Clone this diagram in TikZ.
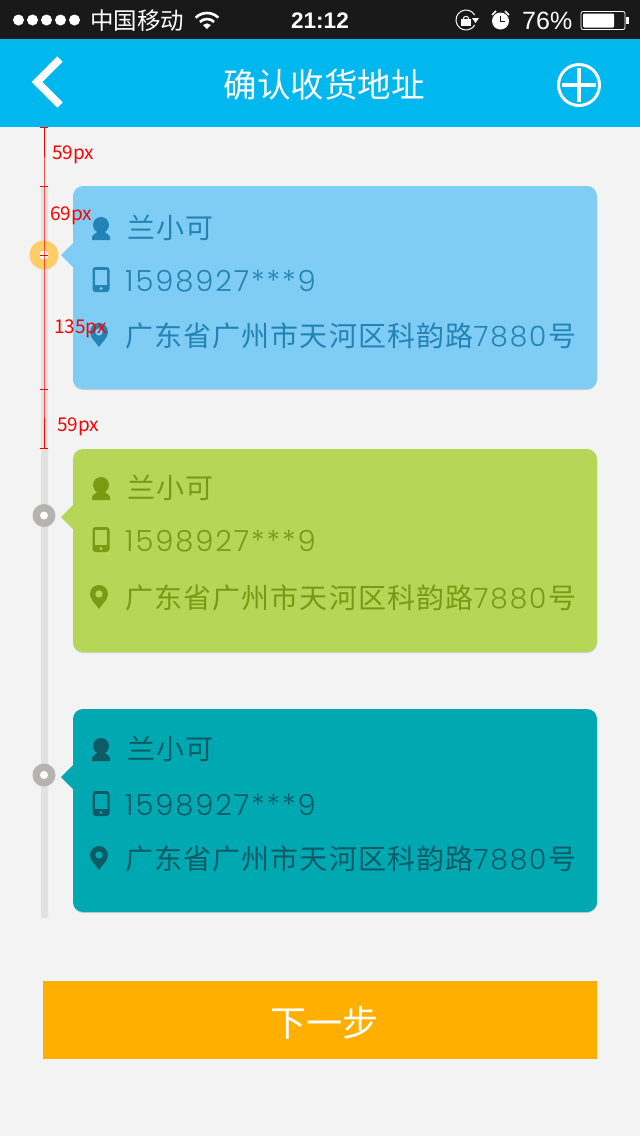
\documentclass[tikz,border=0pt]{standalone}
\usepackage{fontspec}
\usepackage{xcolor}
\usetikzlibrary{positioning, calc}
\setmainfont{Noto Sans CJK SC}
\newfontfamily\cardfont[LetterSpace=4]{Noto Sans CJK SC}
\newfontfamily\numfont[LetterSpace=6.5]{Poppins Light}
\newfontfamily\addrnumfont[LetterSpace=7]{Poppins Light}
\newfontfamily\statusfont{Liberation Sans}
\definecolor{barblack}{HTML}{191919}
\definecolor{headblue}{HTML}{00B7EE}
\definecolor{pagegrey}{HTML}{F3F3F3}
\definecolor{trackgrey}{HTML}{E2E2DF}
\definecolor{dotgrey}{HTML}{B5B4B2}
\definecolor{dotorange}{HTML}{FFCC66}
\definecolor{btnorange}{HTML}{FFAF00}
\definecolor{cardblue}{HTML}{7FCDF4}
\definecolor{inkblue}{HTML}{2283B4}
\definecolor{cardgreen}{HTML}{B5D656}
\definecolor{inkgreen}{HTML}{7A9A14}
\definecolor{cardteal}{HTML}{00A8B1}
\definecolor{inkteal}{HTML}{0C5B66}
\tikzset{
    dimline/.style={red, line width=0.9pt},
    dimtext/.style={red, font=\fontsize{19}{19}\selectfont, inner sep=0},
    cardtext/.style={anchor=base west, inner sep=0, font=\fontsize{28}{28}\selectfont\cardfont},
    phonetext/.style={anchor=base west, inner sep=0, font=\fontsize{29}{29}\selectfont\numfont},
    statustext/.style={white, inner sep=0, font=\fontsize{23.5}{23.5}\selectfont},
    dotouter/.style={circle, fill=dotgrey, minimum size=23, inner sep=0},
    dotinner/.style={circle, fill=white, minimum size=8, inner sep=0},
    person icon/.pic={
        \fill (0,-3) circle (8);
        \fill (-9,12) -- (-9,9) .. controls (-8,6) and (-4,5) .. (-3,3) -- (3,3) .. controls (4,5) and (8,6) .. (9,9) -- (9,12) -- cycle;
    },
    pin icon/.pic={
        \fill[even odd rule] (0,12) .. controls (-3,7) and (-9,3) .. (-9,-3) arc (180:360:9) .. controls (9,3) and (3,7) .. (0,12) -- cycle (0,-3) circle (3.8);
    },
}
\begin{document}
\begin{tikzpicture}[x=1pt, y=-1pt]
    \useasboundingbox (0,0) rectangle (640,1136);
    \fill[pagegrey] (0,0) rectangle (640,1136);

    % Status bar
    \fill[barblack] (0,0) rectangle (640,39);
    \foreach \i in {0,...,4}
        \fill[white] (18.5+14*\i,20) circle (5.5);
    \node[statustext, anchor=west] (carrier) at (90,21) {中国移动};
    \fill[white] (207,29) -- ++(-4,-4) arc (-135:-45:5.6) -- cycle;
    \foreach \r in {10,16}
        \draw[white, line width=2.6pt] ($(207,29)+(-45:\r)$) arc (-45:-135:\r);
    \node[statustext, anchor=center, font=\fontsize{22.5}{22.5}\selectfont\statusfont\bfseries] (clock) at (320,21) {21:12};
    \draw[white, line width=1pt] ($(466,20)+(-30:10)$) arc (-30:-330:10);
    \fill[white] (461,19) rectangle (471,26);
    \draw[white, line width=1pt] (463.3,19) arc (180:360:2.7);
    \fill[white] (472,18) -- (479,18) -- (475.5,23) -- cycle;
    \fill[white] (500.5,21) circle (8.5);
    \draw[barblack, line width=1pt] (500.5,15.5) -- (500.5,21) -- (505,21);
    \draw[white, line width=1.5pt] (492,15) -- (496,11) (509,15) -- (505,11);
    \node[statustext, anchor=west, font=\fontsize{25}{25}\selectfont\statusfont] (battlabel) at (522,21) {76\%};
    \draw[white, rounded corners=2, line width=0.8pt] (581,11.5) rectangle (625,29.5);
    \fill[white, rounded corners=1] (583,13.5) rectangle (614,27.5);
    \fill[white] (626,17) rectangle (629,24);

    % Header
    \fill[headblue] (0,39) rectangle (640,127);
    \draw[white, line width=7.5pt, miter limit=10] (60,59) -- (37,82) -- (60,105);
    \node[white, font=\fontsize{33.5}{33.5}\selectfont] (title) at (324,85) {确认收货地址};
    \node[circle, draw=white, line width=3pt, minimum size=41, inner sep=0] (addbtn) at (579,85) {};
    \draw[white, line width=4pt] (562,85) -- (596,85) (579,68) -- (579,102);

    % Timeline
    \fill[trackgrey, rounded corners=2] (41,186) rectangle (48,918);

    % Address cards
    \foreach \n/\top/\tip/\ny/\py/\ay/\card/\ink in {
        a/186/255/228/280/335/cardblue/inkblue,
        b/449/517/488/540/597/cardgreen/inkgreen,
        c/709/777/749/804/858/cardteal/inkteal}
    {
        \fill[black!18, rounded corners=10] (73,\top+3) rectangle (597,\top+204);
        \fill[\card, rounded corners=10] (73,\top) rectangle (597,\top+203);
        \fill[\card] (61,\tip) -- (73,\tip-12) -- (73,\tip+12) -- cycle;
        \node[cardtext, text=\ink] (name\n) at (127,\ny+10) {兰小可};
        \node[phonetext, text=\ink] (phone\n) at (125,\py+11) {1598927***9};
        \node[cardtext, text=\ink] (addr\n) at (125,\ay+11) {广东省广州市天河区科韵路{\addrnumfont 7880\kern2pt}号};
        \pic[\ink] at (101,\ny) {person icon};
        \fill[\ink, rounded corners=3] (92.5,\py-13) rectangle (109.5,\py+12);
        \fill[\card] (95,\py-10) rectangle (107,\py+5);
        \fill[\card] (101,\py+8.5) circle (1.7);
        \pic[\ink] at (99,\ay) {pin icon};
    }

    % Step dots
    \node[circle, fill=dotorange, minimum size=29, inner sep=0] (dota) at (44,255) {};
    \node[dotinner, minimum size=9] at (dota) {};
    \node[dotouter] (dotb) at (44,515.5) {};
    \node[dotinner] at (dotb) {};
    \node[dotouter] (dotc) at (44,775) {};
    \node[dotinner] at (dotc) {};

    % Next button
    \node[fill=btnorange, minimum width=554, minimum height=78, inner sep=0] (nextbtn) at (320,1020) {};
    \node[text=white, font=\fontsize{36}{36}\selectfont, inner sep=0] (nextlabel) at (324,1023) {下一步};

    % Red measurements
    \coordinate (m0) at (44,127);
    \coordinate (m1) at (44,186);
    \coordinate (m2) at (44,255);
    \coordinate (m3) at (44,389);
    \coordinate (m4) at (44,448);
    \draw[dimline] (m0) -- (m1) -- (m2) -- (m3) -- (m4);
    \foreach \m in {m0,m1,m2,m3,m4}
        \draw[dimline] ($(\m)+(-4,0)$) -- ($(\m)+(4,0)$);
    \node[dimtext, anchor=west] (dim1) at (52,155) {59px};
    \node[dimtext, anchor=west] (dim2) at (50,216) {69px};
    \node[dimtext, anchor=west] (dim3) at (54,329) {135px};
    \node[dimtext, anchor=west] (dim4) at (57,427) {59px};
\end{tikzpicture}
\end{document}
